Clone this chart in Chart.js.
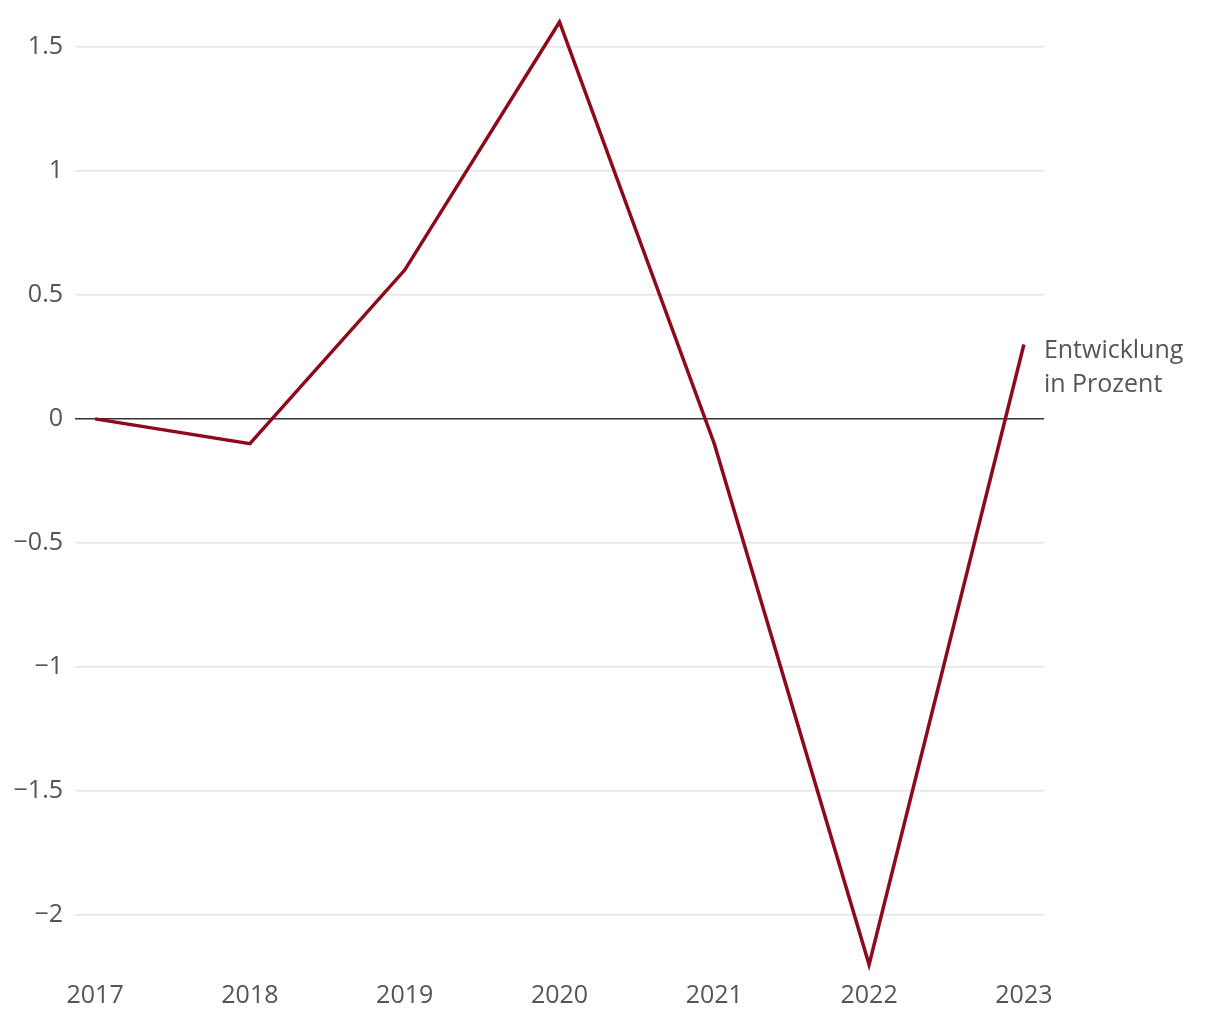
<!DOCTYPE html>
<html lang="de">
<head>
<meta charset="utf-8">
<title>Entwicklung in Prozent</title>
<script src="https://cdn.jsdelivr.net/npm/chart.js@4"></script>
<style>
  html, body { margin: 0; padding: 0; background: #fff; }
  canvas { display: block; }
</style>
</head>
<body>
<canvas id="trend-chart" width="1220" height="1020"></canvas>
<script>
// Chart data
const years = [2017, 2018, 2019, 2020, 2021, 2022, 2023];
const changePercent = [0, -0.1, 0.6, 1.6, -0.1, -2.2, 0.3];
const yTicks = [-2, -1.5, -1, -0.5, 0, 0.5, 1, 1.5];
const seriesLabel = ['Entwicklung', 'in Prozent'];

const textColor = '#555555';
const lineColor = '#8c0a1b';
const fontFamily = '"Open Sans", "Noto Sans", sans-serif';

// Format numbers with a real minus sign
function formatTick(value) {
  if (value === 0) return '0';
  const abs = Math.abs(value).toString();
  return value < 0 ? '\u2212' + abs : abs;
}

/**
 * Draws the series label next to the last point
 */
const endLabelPlugin = {
  id: 'endLabel',
  afterDatasetsDraw(chart) {
    const meta = chart.getDatasetMeta(0);
    const last = meta.data[meta.data.length - 1];
    if (!last) return;
    const ctx = chart.ctx;
    ctx.save();
    ctx.fillStyle = textColor;
    ctx.font = '25px ' + fontFamily;
    ctx.textAlign = 'left';
    ctx.textBaseline = 'middle';
    seriesLabel.forEach((line, i) => {
      ctx.fillText(line, last.x + 20, last.y + 6 + i * 34);
    });
    ctx.restore();
  }
};

const ctx = document.getElementById('trend-chart');

new Chart(ctx, {
  type: 'line',
  data: {
    datasets: [{
      label: seriesLabel.join(' '),
      data: years.map((y, i) => ({ x: y, y: changePercent[i] })),
      borderColor: lineColor,
      borderWidth: 3.5,
      pointRadius: 0,
      tension: 0,
      clip: false
    }]
  },
  options: {
    responsive: false,
    animation: false,
    layout: {
      padding: { top: 22, right: 176, bottom: 0, left: 0 }
    },
    plugins: {
      legend: { display: false },
      tooltip: { enabled: false }
    },
    scales: {
      x: {
        type: 'linear',
        min: 2016.87,
        max: 2023.13,
        afterBuildTicks: (scale) => {
          scale.ticks = years.map(v => ({ value: v }));
        },
        afterFit: (scale) => {
          scale.height = 55.4;
          scale.paddingLeft = 0;
          scale.paddingRight = 0;
        },
        grid: { display: false, drawTicks: false },
        border: { display: false },
        ticks: {
          color: textColor,
          padding: 16,
          maxRotation: 0,
          autoSkip: false,
          font: { family: fontFamily, size: 25 },
          callback: (value) => String(value)
        }
      },
      y: {
        min: -2.2,
        max: 1.6,
        afterBuildTicks: (scale) => {
          scale.ticks = yTicks.map(v => ({ value: v }));
        },
        afterFit: (scale) => {
          scale.width = 75;
          scale.paddingTop = 0;
          scale.paddingBottom = 0;
        },
        grid: {
          drawTicks: false,
          lineWidth: 1.5,
          color: (c) => (c.tick && c.tick.value === 0 ? '#333333' : '#e3e3e3')
        },
        border: { display: false },
        ticks: {
          color: textColor,
          padding: 12,
          font: { family: fontFamily, size: 25 },
          callback: (value) => formatTick(value)
        }
      }
    }
  },
  plugins: [endLabelPlugin]
});
</script>
</body>
</html>
